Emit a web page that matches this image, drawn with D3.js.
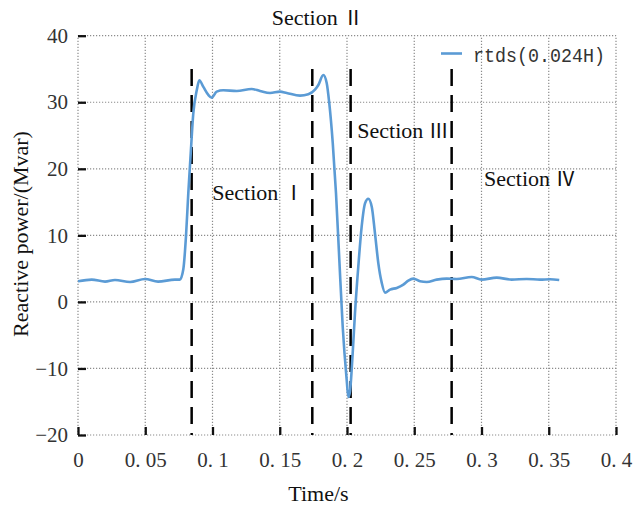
<!DOCTYPE html>
<html>
<head>
<meta charset="utf-8">
<script src="https://cdn.jsdelivr.net/npm/d3@7"></script>
<style>
  html, body { margin: 0; padding: 0; background: #fff; }
  svg { display: block; }
</style>
</head>
<body>
<svg id="chart" width="634" height="507"></svg>
<script>
// ---- data ----
const time = [0, 0.0102, 0.0201, 0.0275, 0.0387, 0.0498, 0.0595, 0.0721, 0.0758, 0.0783, 0.0803, 0.0820,
  0.0838, 0.0857, 0.0883, 0.0902, 0.0932, 0.0969, 0.0994, 0.1031, 0.1080, 0.1180, 0.1291, 0.1353,
  0.1428, 0.1502, 0.1552, 0.1651, 0.1712, 0.1762, 0.1787, 0.1824, 0.1849, 0.1868, 0.1894, 0.1918,
  0.1943, 0.1968, 0.1998, 0.2010, 0.2022, 0.2042, 0.2059, 0.2084, 0.2109, 0.2134, 0.2158, 0.2184,
  0.2208, 0.2233, 0.2258, 0.2283, 0.2320, 0.2370, 0.2419, 0.2456, 0.2493, 0.2543, 0.2593, 0.2667,
  0.2741, 0.2816, 0.2927, 0.3001, 0.3113, 0.3224, 0.3336, 0.3435, 0.3509, 0.3578];
const power = [3.1, 3.35, 3.05, 3.3, 3.0, 3.45, 3.05, 3.35, 3.35, 4.9, 9.9, 16.3,
  22.3, 28.3, 31.8, 33.3, 32.3, 31.1, 30.7, 31.6, 31.8, 31.7, 32.0, 31.7,
  31.4, 31.6, 31.4, 31.0, 31.2, 31.9, 32.6, 34.1, 32.9, 29.9, 23.9, 16.4,
  6.3, -3.7, -11.8, -14.3, -13.5, -7.8, -1.8, 5.3, 11.3, 14.8, 15.5, 14.3,
  10.3, 5.8, 2.9, 1.4, 1.85, 2.1, 2.6, 3.2, 3.5, 3.1, 3.0, 3.35,
  3.5, 3.45, 3.75, 3.35, 3.65, 3.35, 3.45, 3.35, 3.4, 3.3];
const xTicks = [0, 0.05, 0.1, 0.15, 0.2, 0.25, 0.3, 0.35, 0.4];
const xTickLabels = ["0", "0. 05", "0. 1", "0. 15", "0. 2", "0. 25", "0. 3", "0. 35", "0. 4"];
const yTicks = [-20, -10, 0, 10, 20, 30, 40];
const yTickLabels = ["\u221220", "\u221210", "0", "10", "20", "30", "40"];
const boundaries = [0.0845, 0.1742, 0.2027, 0.2778];
const boundaryTop = 35;
const sectionNames = ["Section", "Section", "Section", "Section"];
const sectionNumerals = ["\u2160", "\u2161", "\u2162", "\u2163"];
const sectionX = [0.0999, 0.144, 0.2077, 0.3019];
const sectionY = [15.3, 41.6, 24.6, 17.4];
const seriesName = "rtds(0.024H)";
const xTitle = "Time/s";
const yTitle = "Reactive power/(Mvar)";

// ---- layout ----
const W = 634, H = 507;
const m = {left: 78, right: 18, top: 35.7, bottom: 72};
const svg = d3.select("#chart");
const x = d3.scaleLinear().domain([0, 0.4]).range([m.left, W - m.right]);
const y = d3.scaleLinear().domain([-20, 40]).range([H - m.bottom, m.top]);
const serif = "'Liberation Serif', 'Times New Roman', serif";
const blue = "#5b9bd5";

// grid (dotted)
const grid = svg.append("g").attr("stroke", "#8c8c8c").attr("stroke-width", 1.2)
  .attr("stroke-dasharray", "1.2,1.8");
grid.selectAll(".gx").data(xTicks).join("line")
  .attr("x1", d => x(d)).attr("x2", d => x(d))
  .attr("y1", y(-20)).attr("y2", y(40));
grid.selectAll(".gy").data(yTicks).join("line")
  .attr("y1", d => y(d)).attr("y2", d => y(d))
  .attr("x1", x(0)).attr("x2", x(0.4));

// axes with inward ticks
const xAxis = d3.axisBottom(x).tickValues(xTicks)
  .tickFormat((d, i) => xTickLabels[i]).tickSizeInner(-8).tickSizeOuter(0).tickPadding(17);
const gx = svg.append("g").attr("transform", `translate(0,${y(-20)})`).call(xAxis);
gx.select(".domain").remove();
gx.selectAll(".tick line").attr("stroke", "#111").attr("stroke-width", 2.3);
gx.selectAll(".tick text").attr("font-family", serif).attr("font-size", 21).attr("fill", "#333");

const yAxis = d3.axisLeft(y).tickValues(yTicks)
  .tickFormat((d, i) => yTickLabels[i]).tickSizeInner(-8).tickSizeOuter(0).tickPadding(10);
const gy = svg.append("g").attr("transform", `translate(${x(0)},0)`).call(yAxis);
gy.select(".domain").remove();
gy.selectAll(".tick line").attr("stroke", "#111").attr("stroke-width", 2.3);
gy.selectAll(".tick text").attr("font-family", serif).attr("font-size", 21).attr("fill", "#333");

// boundary dashed lines
svg.append("g").selectAll("line").data(boundaries).join("line")
  .attr("x1", d => x(d)).attr("x2", d => x(d))
  .attr("y1", y(boundaryTop)).attr("y2", y(-20))
  .attr("stroke", "#000").attr("stroke-width", 2.5)
  .attr("stroke-dasharray", "17,9");

// series line
const pts = time.map((t, i) => [t, power[i]]);
svg.append("path").datum(pts)
  .attr("fill", "none").attr("stroke", blue).attr("stroke-width", 2.6)
  .attr("stroke-linejoin", "round")
  .attr("d", d3.line().x(d => x(d[0])).y(d => y(d[1])).curve(d3.curveMonotoneX));

// section labels
const sec = svg.append("g").selectAll("text").data(sectionNames).join("text")
  .attr("x", (d, i) => x(sectionX[i])).attr("y", (d, i) => y(sectionY[i]))
  .attr("font-family", serif).attr("font-size", 22).attr("fill", "#111");
sec.append("tspan").text(d => d + " ");
sec.append("tspan").attr("font-family", "'Noto Sans CJK SC', sans-serif").attr("font-size", 20)
  .text((d, i) => sectionNumerals[i]);

// legend
svg.append("line").attr("x1", 441).attr("x2", 462).attr("y1", 53.5).attr("y2", 53.5)
  .attr("stroke", blue).attr("stroke-width", 2.6);
svg.append("text").attr("x", 473).attr("y", 61.5)
  .attr("font-family", "'Liberation Mono', monospace").attr("font-size", 20)
  .attr("textLength", 132).attr("lengthAdjust", "spacingAndGlyphs")
  .attr("fill", "#333").text(seriesName);

// axis titles
svg.append("text").attr("x", 318.5).attr("y", 501)
  .attr("text-anchor", "middle").attr("font-family", serif).attr("font-size", 22)
  .attr("fill", "#111").text(xTitle);
svg.append("text").attr("transform", "translate(28,234) rotate(-90)")
  .attr("text-anchor", "middle").attr("font-family", serif).attr("font-size", 22)
  .attr("fill", "#111").text(yTitle);
</script>
</body>
</html>
